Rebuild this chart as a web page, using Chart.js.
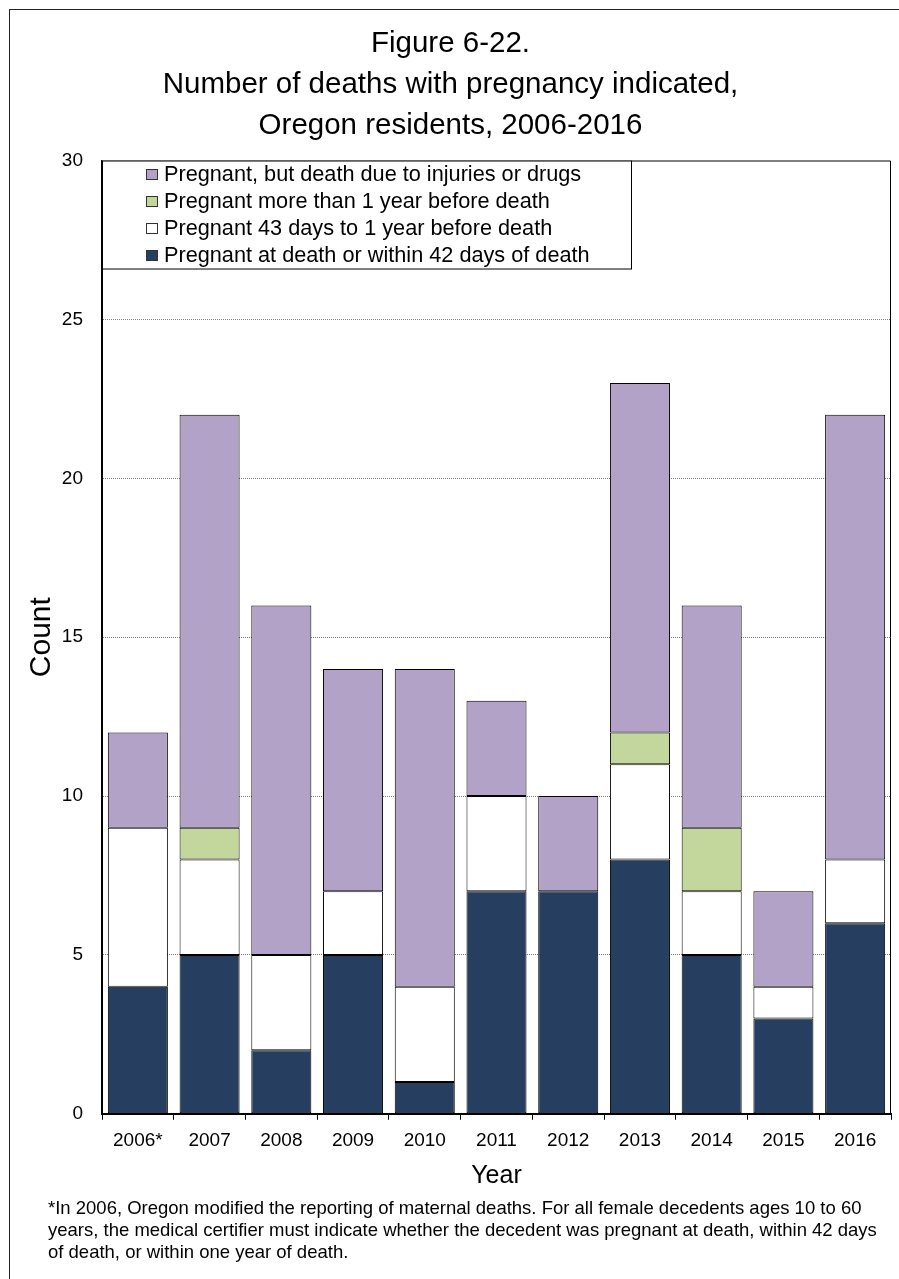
<!DOCTYPE html>
<html>
<head>
<meta charset="utf-8">
<title>Figure 6-22</title>
<script src="https://cdn.jsdelivr.net/npm/chart.js@4.4.1/dist/chart.umd.min.js"></script>
<style>
  html, body { margin: 0; padding: 0; background: #fff; overflow: hidden; }
  #frame { position: absolute; left: 9px; top: 9px; width: 1000px; height: 1400px;
           border-left: 1px solid #222; border-top: 1px solid #222; }
  #wrap { position: absolute; left: 0; top: 0; width: 899px; height: 1279px; }
  #note { position: absolute; left: 48px; top: 1196.5px; color: #000; white-space: nowrap;
          font: 18.5px "Liberation Sans", Arial, sans-serif; line-height: 22px; }
</style>
</head>
<body>
<div id="frame"></div>
<div id="wrap"><canvas id="deathsChart"></canvas></div>
<div id="note">*In 2006, Oregon modified the reporting of maternal deaths. For all female decedents ages 10 to 60<br>years, the medical certifier must indicate whether the decedent was pregnant at death, within 42 days<br>of death, or within one year of death.</div>
<script>
"use strict";

const years = ["2006*", "2007", "2008", "2009", "2010", "2011", "2012", "2013", "2014", "2015", "2016"];
const within42Days = [4, 5, 2, 5, 1, 7, 7, 8, 5, 3, 6];
const days43ToYear = [5, 3, 3, 2, 3, 3, 0, 3, 2, 1, 2];
const overOneYear = [0, 1, 0, 0, 0, 0, 0, 1, 2, 0, 0];
const injuriesOrDrugs = [3, 13, 11, 7, 10, 3, 3, 11, 7, 3, 14];
const yTicks = [0, 5, 10, 15, 20, 25, 30];

const FONT = "'Liberation Sans', Arial, sans-serif";

// legend box sitting in the top-left corner of the plot, last series first
const boxLegend = {
  id: "boxLegend",
  afterDraw(chart) {
    const ctx = chart.ctx;
    const area = chart.chartArea;
    const x = area.left, y = area.top;
    ctx.save();
    ctx.fillStyle = "#fff";
    ctx.fillRect(x, y, 529, 108);
    ctx.strokeStyle = "#000";
    ctx.lineWidth = 1;
    ctx.strokeRect(x + 0.5, y + 0.5, 529, 108);
    ctx.font = "21.7px " + FONT;
    ctx.textBaseline = "alphabetic";
    const sets = chart.data.datasets.slice().reverse();
    sets.forEach((ds, i) => {
      const base = y + 20.5 + i * 27;
      ctx.fillStyle = ds.backgroundColor;
      ctx.fillRect(x + 44, base - 12, 12, 11);
      ctx.strokeStyle = "#333";
      ctx.strokeRect(x + 44.5, base - 11.5, 11, 10);
      ctx.fillStyle = "#000";
      ctx.fillText(ds.label, x + 62, base);
    });
    ctx.restore();
  }
};

// thin frame on the top and right of the plot
const plotFrame = {
  id: "plotFrame",
  afterDatasetsDraw(chart) {
    const ctx = chart.ctx;
    const a = chart.chartArea;
    ctx.save();
    ctx.strokeStyle = "#000";
    ctx.lineWidth = 1;
    ctx.beginPath();
    ctx.moveTo(a.left, a.top + 0.5);
    ctx.lineTo(a.right - 0.5, a.top + 0.5);
    ctx.lineTo(a.right - 0.5, a.bottom);
    ctx.stroke();
    ctx.restore();
  }
};

function series(label, data, color) {
  return {
    label: label,
    data: data,
    backgroundColor: color,
    borderColor: "#000",
    borderWidth: 1,
    borderSkipped: false,
    barPercentage: 0.837,
    categoryPercentage: 1
  };
}

new Chart(document.getElementById("deathsChart"), {
  type: "bar",
  data: {
    labels: years,
    datasets: [
      series("Pregnant at death or within 42 days of death", within42Days, "#263F60"),
      series("Pregnant 43 days to 1 year before death", days43ToYear, "#FFFFFF"),
      series("Pregnant more than 1 year before death", overOneYear, "#C3D69B"),
      series("Pregnant, but death due to injuries or drugs", injuriesOrDrugs, "#B3A2C7")
    ]
  },
  options: {
    responsive: true,
    maintainAspectRatio: false,
    animation: false,
    layout: { padding: { left: 10, right: 8, top: 0, bottom: 88 } },
    plugins: {
      legend: { display: false },
      tooltip: { enabled: false },
      title: {
        display: true,
        text: ["Figure 6-22.", "Number of deaths with pregnancy indicated,", "Oregon residents, 2006-2016"],
        color: "#000",
        font: { family: FONT, size: 29.5, weight: "normal", lineHeight: 1.39 },
        padding: { top: 23.5, bottom: 14 }
      }
    },
    scales: {
      x: {
        stacked: true,
        grid: {
          offset: true,
          drawOnChartArea: false,
          drawTicks: true,
          tickLength: 6,
          color: "#000"
        },
        border: { display: true, color: "#000", width: 2 },
        ticks: {
          color: "#000",
          padding: 9.2,
          font: { family: FONT, size: 19 }
        },
        title: {
          display: true,
          text: "Year",
          color: "#000",
          font: { family: FONT, size: 25 },
          padding: { top: 0, bottom: 0 }
        }
      },
      y: {
        stacked: true,
        min: 0,
        max: 30,
        afterBuildTicks(scale) {
          scale.ticks = yTicks.map(v => ({ value: v }));
        },
        afterFit(scale) {
          scale.width = 92;
        },
        grid: {
          drawTicks: false,
          color: ctx => (ctx.tick && (ctx.tick.value === 0 || ctx.tick.value === 30)) ? "rgba(0,0,0,0)" : "#808080",
          lineWidth: 1
        },
        border: { display: true, color: "#000", width: 2, dash: [1, 1] },
        ticks: {
          color: "#000",
          padding: 19,
          font: { family: FONT, size: 19 }
        },
        title: {
          display: true,
          text: "Count",
          color: "#000",
          font: { family: FONT, size: 30 },
          padding: { top: 13.5, bottom: 0 }
        }
      }
    }
  },
  plugins: [boxLegend, plotFrame]
});
</script>
</body>
</html>
